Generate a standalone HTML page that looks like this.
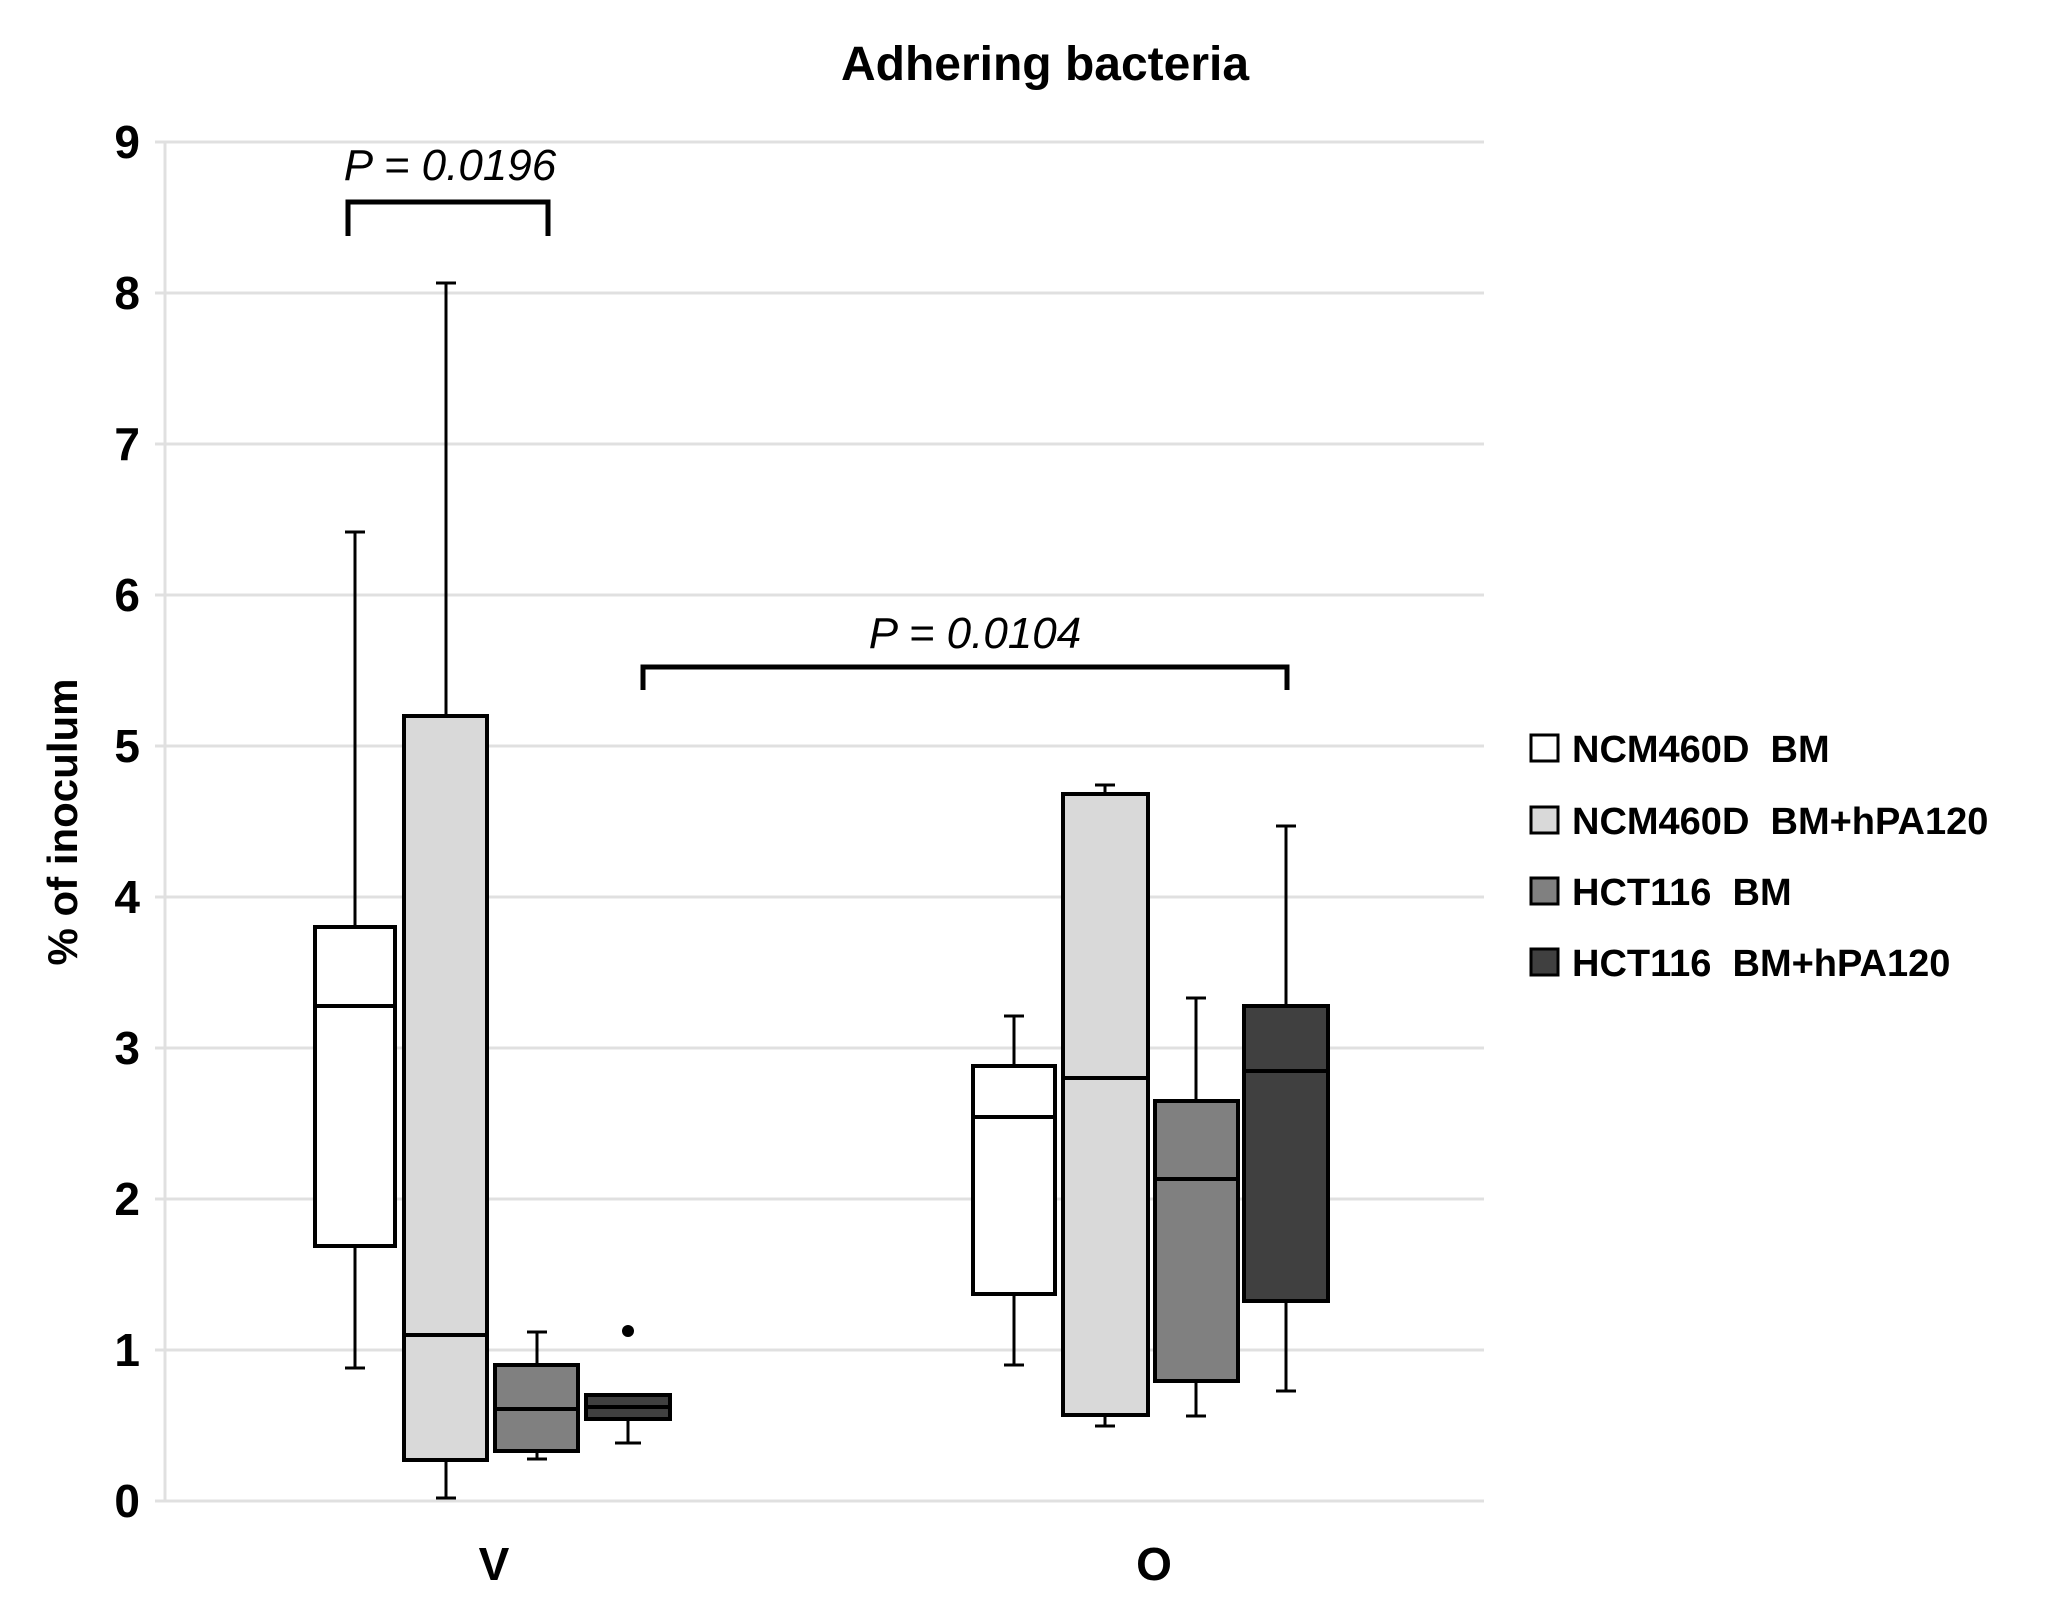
<!DOCTYPE html>
<html><head><meta charset="utf-8"><style>body{margin:0;background:#fff}svg{display:block}.lg text{white-space:pre}</style></head>
<body>
<svg width="2064" height="1624" viewBox="0 0 2064 1624" xmlns="http://www.w3.org/2000/svg" font-family="Liberation Sans, sans-serif">
<rect width="2064" height="1624" fill="#fff"/>
<text x="1045" y="80" font-size="48" font-weight="bold" text-anchor="middle">Adhering bacteria</text>
<g stroke="#e0e0e0" stroke-width="3">
<line x1="155" y1="142" x2="1484" y2="142"/><line x1="155" y1="293" x2="1484" y2="293"/>
<line x1="155" y1="444" x2="1484" y2="444"/><line x1="155" y1="595" x2="1484" y2="595"/>
<line x1="155" y1="746" x2="1484" y2="746"/><line x1="155" y1="897" x2="1484" y2="897"/>
<line x1="155" y1="1048" x2="1484" y2="1048"/><line x1="155" y1="1199" x2="1484" y2="1199"/>
<line x1="155" y1="1350" x2="1484" y2="1350"/><line x1="155" y1="1501" x2="1484" y2="1501"/>
<line x1="165" y1="142" x2="165" y2="1501"/>
</g>
<g font-size="46" font-weight="bold" text-anchor="end">
<text x="140" y="158">9</text><text x="140" y="309">8</text><text x="140" y="460">7</text>
<text x="140" y="611">6</text><text x="140" y="762">5</text><text x="140" y="913">4</text>
<text x="140" y="1064">3</text><text x="140" y="1215">2</text><text x="140" y="1366">1</text>
<text x="140" y="1517">0</text>
</g>
<text transform="translate(77,822) rotate(-90)" font-size="42" font-weight="bold" text-anchor="middle">% of inoculum</text>
<text x="494" y="1580" font-size="46" font-weight="bold" text-anchor="middle">V</text>
<text x="1154" y="1580" font-size="46" font-weight="bold" text-anchor="middle">O</text>
<g stroke="#000" stroke-width="3" fill="none">
<line x1="355" y1="1368" x2="355" y2="532"/><line x1="345" y1="1368" x2="365" y2="1368"/><line x1="345" y1="532" x2="365" y2="532"/>
<line x1="446" y1="1498" x2="446" y2="283"/><line x1="436" y1="1498" x2="456" y2="1498"/><line x1="436" y1="283" x2="456" y2="283"/>
<line x1="537" y1="1459" x2="537" y2="1332"/><line x1="527" y1="1459" x2="547" y2="1459"/><line x1="527" y1="1332" x2="547" y2="1332"/>
<line x1="628" y1="1443" x2="628" y2="1400"/><line x1="615" y1="1443" x2="641" y2="1443"/>
<line x1="1014" y1="1365" x2="1014" y2="1016"/><line x1="1004" y1="1365" x2="1024" y2="1365"/><line x1="1004" y1="1016" x2="1024" y2="1016"/>
<line x1="1105" y1="1426" x2="1105" y2="785"/><line x1="1095" y1="1426" x2="1115" y2="1426"/><line x1="1095" y1="785" x2="1115" y2="785"/>
<line x1="1196" y1="1416" x2="1196" y2="998"/><line x1="1186" y1="1416" x2="1206" y2="1416"/><line x1="1186" y1="998" x2="1206" y2="998"/>
<line x1="1286" y1="1391" x2="1286" y2="826"/><line x1="1276" y1="1391" x2="1296" y2="1391"/><line x1="1276" y1="826" x2="1296" y2="826"/>
</g>
<g stroke="#000" stroke-width="4">
<rect x="315" y="927" width="80" height="319" fill="#fff"/><line x1="315" y1="1006" x2="395" y2="1006"/>
<rect x="404" y="716" width="83" height="744" fill="#d9d9d9"/><line x1="404" y1="1335" x2="487" y2="1335"/>
<rect x="495" y="1365" width="83" height="86" fill="#808080"/><line x1="495" y1="1409" x2="578" y2="1409"/>
<rect x="586" y="1395" width="84" height="24" fill="#404040"/><line x1="586" y1="1407" x2="670" y2="1407"/>
<rect x="973" y="1066" width="82" height="228" fill="#fff"/><line x1="973" y1="1117" x2="1055" y2="1117"/>
<rect x="1063" y="794" width="85" height="621" fill="#d9d9d9"/><line x1="1063" y1="1078" x2="1148" y2="1078"/>
<rect x="1155" y="1101" width="83" height="280" fill="#808080"/><line x1="1155" y1="1179" x2="1238" y2="1179"/>
<rect x="1244" y="1006" width="84" height="295" fill="#404040"/><line x1="1244" y1="1071" x2="1328" y2="1071"/>
</g>
<circle cx="628" cy="1331" r="6" fill="#000"/>
<path d="M348 236 V202 H548 V236" stroke="#000" stroke-width="5" fill="none"/>
<text x="450" y="180" font-size="44" font-style="italic" text-anchor="middle">P = 0.0196</text>
<path d="M643 690 V667 H1287 V690" stroke="#000" stroke-width="5" fill="none"/>
<text x="975" y="648" font-size="44" font-style="italic" text-anchor="middle">P = 0.0104</text>
<g stroke="#000" stroke-width="3">
<rect x="1531" y="735" width="27" height="26" fill="#fff"/>
<rect x="1531" y="807" width="27" height="26" fill="#d9d9d9"/>
<rect x="1531" y="878" width="27" height="26" fill="#808080"/>
<rect x="1531" y="949" width="27" height="26" fill="#404040"/>
</g>
<g class="lg" font-size="38" font-weight="bold">
<text x="1572" y="762">NCM460D  BM</text>
<text x="1572" y="834">NCM460D  BM+hPA120</text>
<text x="1572" y="905">HCT116  BM</text>
<text x="1572" y="976">HCT116  BM+hPA120</text>
</g>
</svg>
</body></html>
